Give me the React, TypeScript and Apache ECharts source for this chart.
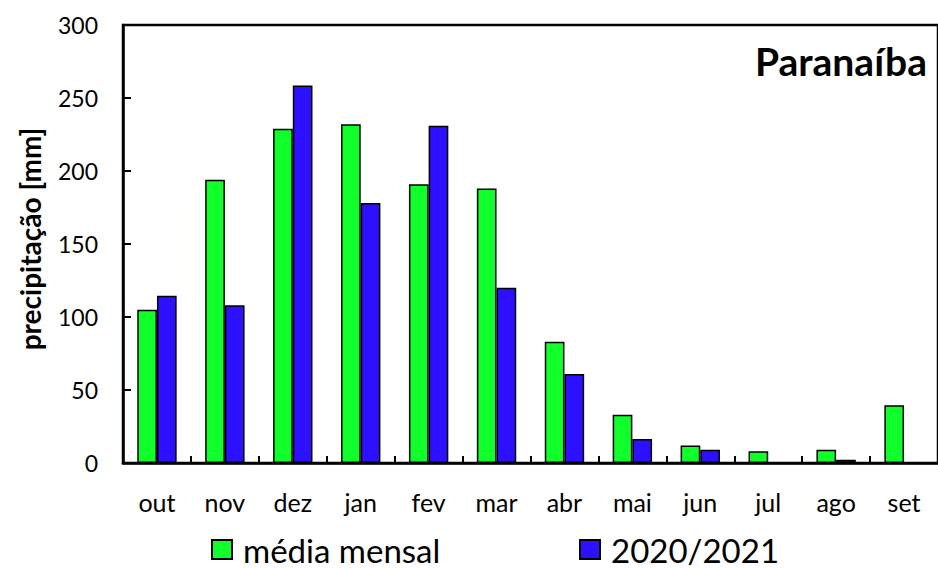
import React, { useEffect, useRef } from "react";
import * as echarts from "echarts";

const months = ["out", "nov", "dez", "jan", "fev", "mar", "abr", "mai", "jun", "jul", "ago", "set"];
const mediaMensal = [105, 194, 229, 232, 191, 188, 83, 33, 12, 8, 9, 39.5];
const ano2020 = [114.5, 108, 258.5, 178, 231, 120, 61, 16.5, 9, 0, 2.3, 0];
const yTicks = { min: 0, max: 300, interval: 50 };

const FONT = "Lato";

export default function App() {
  const ref = useRef<HTMLDivElement>(null);
  useEffect(() => {
    if (!ref.current) return;
    const chart = echarts.init(ref.current, null, { renderer: "svg" });
    const legendBase = {
      top: 533,
      padding: 0,
      itemWidth: 20,
      itemHeight: 19,
      icon: "rect",
      textStyle: { fontFamily: FONT, fontSize: 33, lineHeight: 30, color: "#000", padding: [0, 0, 0, 6] },
    };
    chart.setOption({
      animation: false,
      backgroundColor: "#ffffff",
      textStyle: { fontFamily: FONT },
      grid: {
        left: 123,
        top: 25,
        right: -6,
        bottom: 106,
        show: true,
        borderColor: "#000",
        borderWidth: 2.5,
        backgroundColor: "transparent",
      },
      legend: [
        { ...legendBase, data: ["média mensal"], left: 211 },
        { ...legendBase, data: ["2020/2021"], left: 579 },
      ],
      xAxis: {
        type: "category",
        data: months,
        boundaryGap: true,
        axisLine: { lineStyle: { color: "#000", width: 2.5 } },
        axisTick: { show: true, inside: true, length: 7, interval: 0, lineStyle: { color: "#000", width: 2 } },
        axisLabel: { interval: 0, color: "#000", fontSize: 25, fontFamily: FONT, margin: 26 },
        splitLine: { show: false },
      },
      yAxis: {
        type: "value",
        min: yTicks.min,
        max: yTicks.max,
        interval: yTicks.interval,
        axisLine: { show: true, lineStyle: { color: "#000", width: 2.5 } },
        axisTick: { show: true, inside: true, length: 8, lineStyle: { color: "#000", width: 2 } },
        axisLabel: { color: "#000", fontSize: 23, fontFamily: FONT, margin: 25 },
        splitLine: { show: false },
      },
      graphic: [
        {
          type: "text",
          x: 30,
          y: 239,
          rotation: Math.PI / 2,
          style: {
            text: "precipitação [mm]",
            fontFamily: FONT,
            fontSize: 28,
            fontWeight: "bold",
            fill: "#000",
            textAlign: "center",
            textVerticalAlign: "middle",
          },
        },
        {
          type: "text",
          x: 927,
          y: 61,
          style: {
            text: "Paranaíba",
            fontFamily: FONT,
            fontSize: 39,
            fontWeight: "bold",
            fill: "#000",
            textAlign: "right",
            textVerticalAlign: "middle",
          },
        },
      ],
      series: [
        {
          name: "média mensal",
          type: "bar",
          data: mediaMensal,
          barGap: "0%",
          barCategoryGap: "42%",
          itemStyle: { color: "#10FF2A", borderColor: "#000", borderWidth: 1.5 },
        },
        {
          name: "2020/2021",
          type: "bar",
          data: ano2020,
          itemStyle: { color: "#2C10FF", borderColor: "#000", borderWidth: 1.5 },
        },
      ],
    });
    return () => chart.dispose();
  }, []);
  return <div ref={ref} style={{ width: 938, height: 569, position: "absolute", left: 0, top: 0 }} />;
}
